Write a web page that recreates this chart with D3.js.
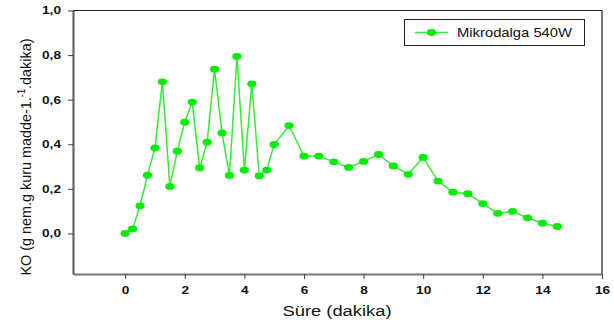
<!DOCTYPE html>
<html>
<head>
<meta charset="utf-8">
<script src="https://cdn.jsdelivr.net/npm/d3@7/dist/d3.min.js"></script>
<style>
  html, body { margin: 0; padding: 0; background: #fff; }
  svg { display: block; }
  text { font-family: "Liberation Sans", Arial, sans-serif; }
</style>
</head>
<body>
<svg id="chart" width="614" height="329"></svg>
<script>
// Drying time (minutes) and drying rate values
const times = [0, 0.25, 0.5, 0.75, 1.0, 1.25, 1.5, 1.75, 2.0, 2.25, 2.5, 2.75, 3.0, 3.25, 3.5, 3.75,
  4.0, 4.25, 4.5, 4.75, 5.0, 5.5, 6.0, 6.5, 7.0, 7.5, 8.0, 8.5, 9.0, 9.5, 10.0, 10.5, 11.0, 11.5,
  12.0, 12.5, 13.0, 13.5, 14.0, 14.5];
const rates = [0.0, 0.02, 0.124, 0.261, 0.384, 0.68, 0.211, 0.369, 0.499, 0.589, 0.294, 0.409,
  0.737, 0.451, 0.26, 0.794, 0.284, 0.671, 0.258, 0.284, 0.399, 0.484, 0.347, 0.347, 0.321,
  0.296, 0.323, 0.354, 0.303, 0.265, 0.341, 0.235, 0.185, 0.178, 0.134, 0.09, 0.099, 0.07,
  0.046, 0.031];
const xTicks = [0, 2, 4, 6, 8, 10, 12, 14, 16];
const yTicks = [0, 0.2, 0.4, 0.6, 0.8, 1.0];
const seriesName = "Mikrodalga 540W";

const svg = d3.select("#chart");
const plotLeft = 73, plotRight = 602, plotTop = 10.5, plotBottom = 274;

const x = d3.scaleLinear().domain([-1.75, 16]).range([plotLeft, plotRight]);
const y = d3.scaleLinear().domain([-0.182, 1.0]).range([plotBottom, plotTop]);
const fmt = d => d3.format(".1f")(d).replace(".", ",");

// widen text horizontally by a factor, keeping its anchor
function widen(sel, k) {
  sel.each(function () {
    const w = this.getComputedTextLength();
    d3.select(this).attr("textLength", w * k).attr("lengthAdjust", "spacingAndGlyphs");
  });
}

// frame: top and right edges
svg.append("path")
  .attr("d", `M${plotLeft},${plotTop}H${plotRight}V${plotBottom}`)
  .attr("fill", "none").attr("stroke", "#222").attr("stroke-width", 1.2);

// x axis
const gx = svg.append("g").attr("transform", `translate(0,${plotBottom})`)
  .call(d3.axisBottom(x).tickValues(xTicks).tickSize(5).tickPadding(8).tickSizeOuter(0));
gx.select(".domain").attr("stroke", "#777").attr("stroke-width", 1.8);
gx.selectAll(".tick line").attr("stroke", "#444");
gx.selectAll("text").attr("font-size", 10.5).attr("font-weight", "bold").attr("fill", "#111");
widen(gx.selectAll("text"), 1.3);

// y axis
const gy = svg.append("g").attr("transform", `translate(${plotLeft},0)`)
  .call(d3.axisLeft(y).tickValues(yTicks).tickFormat(fmt).tickSize(5).tickPadding(7).tickSizeOuter(0));
gy.select(".domain").attr("stroke", "#666").attr("stroke-width", 2.2);
gy.selectAll(".tick line").attr("stroke", "#444");
gy.selectAll("text").attr("font-size", 10.5).attr("font-weight", "bold").attr("fill", "#111");
widen(gy.selectAll("text"), 1.3);

// axis titles
svg.append("text").attr("x", 337).attr("y", 316).attr("text-anchor", "middle")
  .attr("font-size", 14).attr("fill", "#111")
  .attr("textLength", 109).attr("lengthAdjust", "spacingAndGlyphs")
  .text("Süre (dakika)");

const yl = svg.append("text").attr("transform", "translate(31,157) rotate(-90)")
  .attr("text-anchor", "middle").attr("font-size", 15.5).attr("fill", "#111")
  .attr("textLength", 237).attr("lengthAdjust", "spacingAndGlyphs");
yl.append("tspan").text("KO (g nem.g kuru madde-1.");
yl.append("tspan").attr("font-size", 10).attr("dy", -6).text("-1");
yl.append("tspan").attr("dy", 6).text(".dakika)");

// data line and markers
const data = times.map((t, i) => ({ t, v: rates[i] }));
svg.append("path").datum(data)
  .attr("d", d3.line().x(d => x(d.t)).y(d => y(d.v)))
  .attr("fill", "none").attr("stroke", "#33ee33").attr("stroke-width", 1.5);
svg.selectAll("ellipse.pt").data(data).enter().append("ellipse").attr("class", "pt")
  .attr("cx", d => x(d.t)).attr("cy", d => y(d.v))
  .attr("rx", 4.6).attr("ry", 3.4).attr("fill", "#00ee00");

// legend
svg.append("rect").attr("x", 404.5).attr("y", 19.5).attr("width", 180).attr("height", 26)
  .attr("fill", "#fff").attr("stroke", "#222").attr("stroke-width", 1);
svg.append("line").attr("x1", 415).attr("x2", 448).attr("y1", 32.5).attr("y2", 32.5)
  .attr("stroke", "#33ee33").attr("stroke-width", 1.5);
svg.append("ellipse").attr("cx", 431.5).attr("cy", 32.5).attr("rx", 4.6).attr("ry", 3.4).attr("fill", "#00ee00");
svg.append("text").attr("x", 457).attr("y", 37).attr("font-size", 13).attr("fill", "#111")
  .attr("textLength", 115).attr("lengthAdjust", "spacingAndGlyphs")
  .text(seriesName);
</script>
</body>
</html>
